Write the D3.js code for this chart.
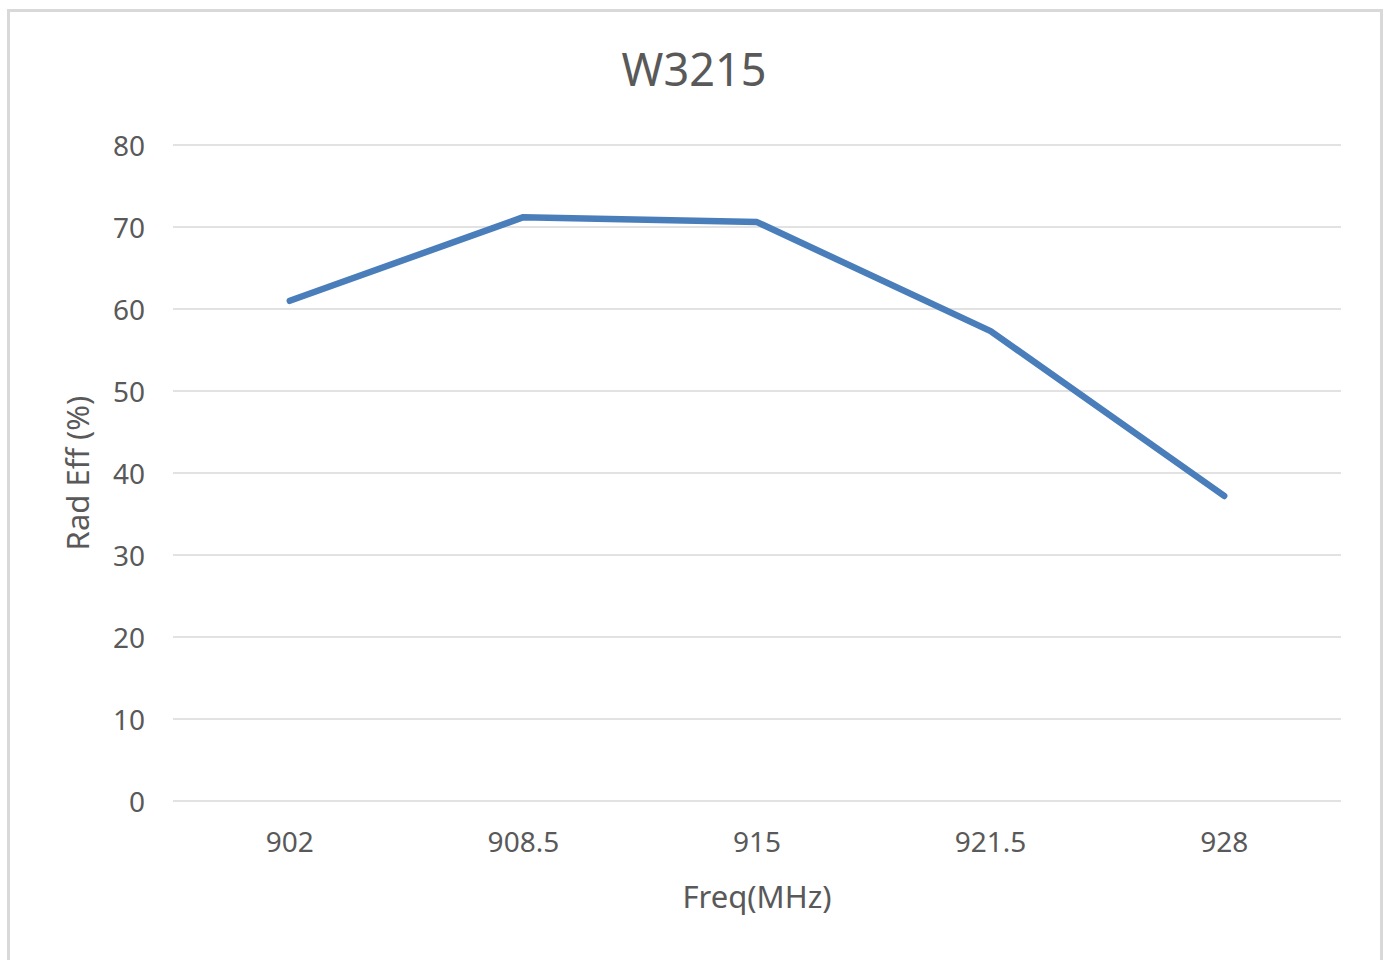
<!DOCTYPE html>
<html>
<head>
<meta charset="utf-8">
<script src="https://cdn.jsdelivr.net/npm/d3@7"></script>
<style>
  body { margin: 0; background: #fff; }
  text { font-family: "Noto Sans", sans-serif; fill: #595959; }
</style>
</head>
<body>
<div id="chart"></div>
<script>
var width = 1385
var height = 960

var chartTitle = "W3215"
var freqs = ["902", "908.5", "915", "921.5", "928"]
var radEff = [61.0, 71.2, 70.6, 57.3, 37.2]
var yTicks = [0, 10, 20, 30, 40, 50, 60, 70, 80]

var svg = d3.select("#chart").append("svg").attr("width", width).attr("height", height)

// chart frame
svg.append("rect")
    .attr("x", 8.5).attr("y", 10.5)
    .attr("width", 1373).attr("height", 970)
    .attr("fill", "#fff")
    .attr("stroke", "#d9d9d9")
    .attr("stroke-width", 3)

var x = d3.scaleBand().domain(freqs).range([173, 1341])
var y = d3.scaleLinear().domain([0, 80]).range([801, 145])

// gridlines
svg.selectAll("line.grid")
    .data(yTicks)
    .enter()
    .append("line")
    .attr("class", "grid")
    .attr("x1", 173).attr("x2", 1341)
    .attr("y1", function(d){ return y(d) })
    .attr("y2", function(d){ return y(d) })
    .style("stroke", "#d9d9d9")
    .style("stroke-width", 1.5)

// y axis labels
var yAxis = svg.append("g")
    .attr("transform", "translate(173,0)")
    .call(d3.axisLeft(y).tickValues(yTicks).tickSize(0).tickPadding(28))
yAxis.select(".domain").remove()
yAxis.selectAll("text")
    .style("font-size", "28px")
    .style("font-family", "Noto Sans")
    .attr("fill", "#595959")
    .attr("dy", "0.36em")

// x axis labels
var xAxis = svg.append("g")
    .attr("transform", "translate(0,801)")
    .call(d3.axisBottom(x).tickSize(0).tickPadding(31))
xAxis.select(".domain").remove()
xAxis.selectAll("text")
    .style("font-size", "28px")
    .style("font-family", "Noto Sans")
    .attr("fill", "#595959")

// series line
var line = d3.line()
    .x(function(d, i){ return x(freqs[i]) + x.bandwidth() / 2 })
    .y(function(d){ return y(d) })

svg.append("path")
    .datum(radEff)
    .attr("d", line)
    .attr("fill", "none")
    .attr("stroke", "#4a7ebb")
    .attr("stroke-width", 6.5)
    .attr("stroke-linecap", "round")
    .attr("stroke-linejoin", "round")

// titles
svg.append("text")
    .attr("x", 694).attr("y", 86)
    .attr("text-anchor", "middle")
    .style("font-size", "45px")
    .text(chartTitle)

svg.append("text")
    .attr("x", 757).attr("y", 908)
    .attr("text-anchor", "middle")
    .style("font-size", "31px")
    .text("Freq(MHz)")

svg.append("text")
    .attr("transform", "translate(89,473) rotate(-90)")
    .attr("text-anchor", "middle")
    .style("font-size", "31px")
    .text("Rad Eff (%)")
</script>
</body>
</html>
